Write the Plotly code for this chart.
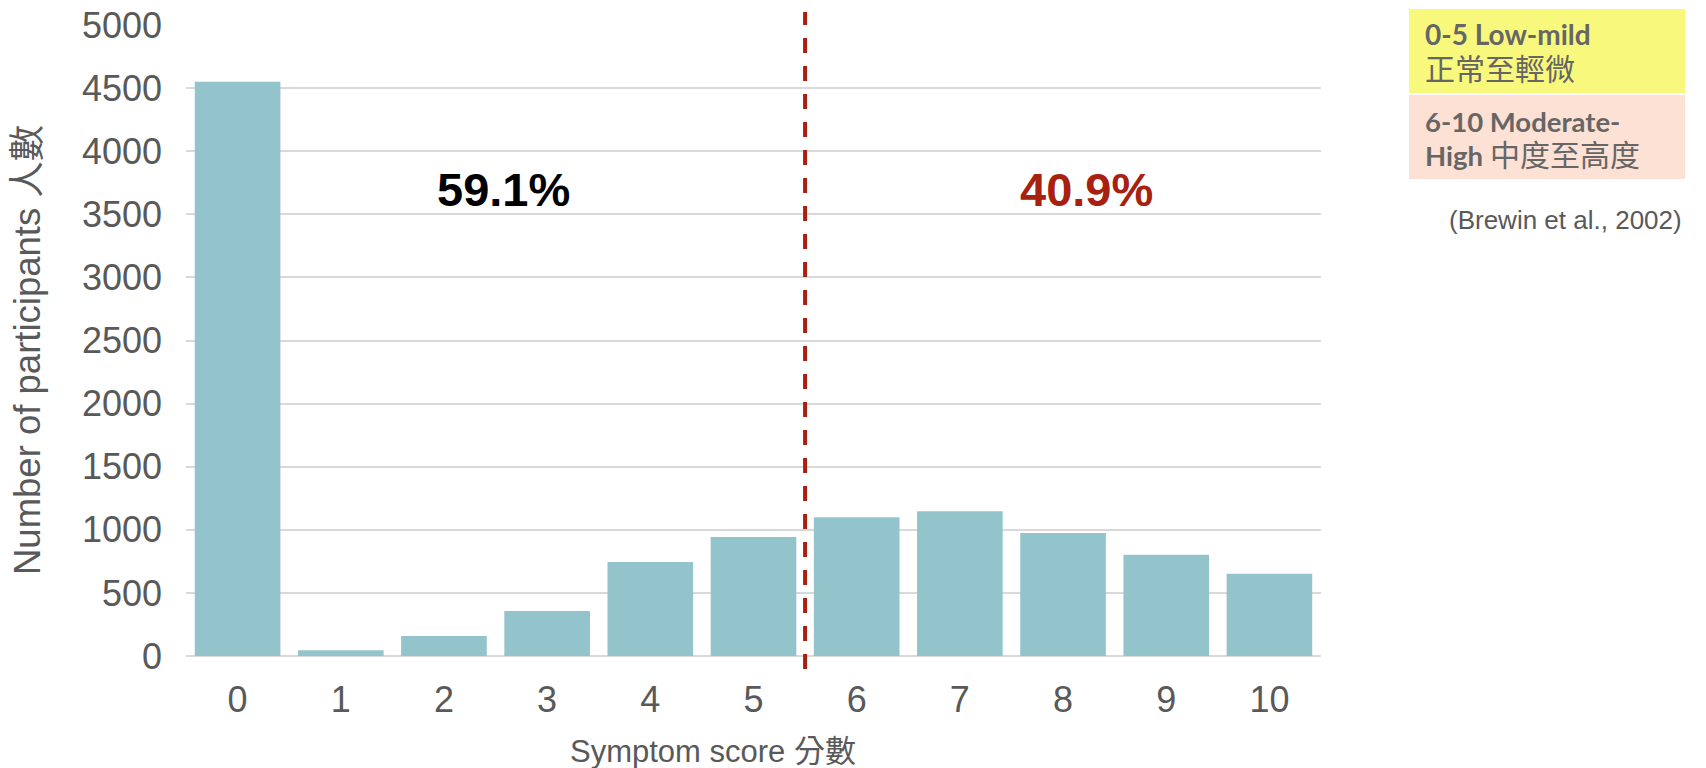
import plotly.graph_objects as go

# Distribution of symptom scores
scores = [str(s) for s in range(11)]
participants = [4550, 45, 158, 356, 744, 942, 1100, 1146, 974, 803, 652]
share_low = "59.1%"
share_high = "40.9%"
cutoff = 5.5

y_ticks = [0, 500, 1000, 1500, 2000, 2500, 3000, 3500, 4000, 4500, 5000]

# Page geometry (pixels)
W_PX, H_PX = 1706, 768
M_L, M_R, M_T, M_B = 186, 385, 25, 112
PLOT_W = W_PX - M_L - M_R
PLOT_H = H_PX - M_T - M_B


def paper_x(px):
    return (px - M_L) / PLOT_W


def paper_y(py):
    return (H_PX - M_B - py) / PLOT_H


BAR_COLOR = "#94C4CB"
GRID = "#D9D9D9"
AXIS_TEXT = "#595959"
RED = "#A8200F"
LATIN = "Liberation Sans, Arial, Noto Sans CJK TC"
BOX_FONT = "Lato, Noto Sans CJK TC"
BOX_TEXT = "#666666"

fig = go.Figure(
    go.Bar(
        x=scores,
        y=participants,
        marker=dict(color=BAR_COLOR, line=dict(width=0)),
        hoverinfo="x+y",
    )
)

fig.update_layout(
    width=W_PX,
    height=H_PX,
    margin=dict(l=M_L, r=M_R, t=M_T, b=M_B, pad=0, autoexpand=False),
    paper_bgcolor="white",
    plot_bgcolor="white",
    bargap=0.17,
    showlegend=False,
    font=dict(family=LATIN, color=AXIS_TEXT),
)

fig.update_xaxes(
    type="category",
    range=[-0.5, 10.5],
    automargin=False,
    showgrid=False,
    showline=False,
    zeroline=False,
    ticks="",
    ticklabelstandoff=19,
    tickfont=dict(size=36, color=AXIS_TEXT, family=LATIN),
    fixedrange=True,
)

fig.update_yaxes(
    range=[0, 5000],
    tickvals=y_ticks,
    automargin=False,
    showgrid=True,
    gridcolor=GRID,
    gridwidth=2,
    zeroline=True,
    zerolinecolor=GRID,
    zerolinewidth=2,
    showline=False,
    ticks="",
    ticklabelstandoff=23,
    tickfont=dict(size=36, color=AXIS_TEXT, family=LATIN),
    fixedrange=True,
)

# Cut-off between the low-mild and moderate-high groups
fig.add_shape(
    type="line",
    xref="x",
    yref="paper",
    x0=cutoff,
    x1=cutoff,
    y0=paper_y(669),
    y1=paper_y(12),
    line=dict(color=RED, width=4, dash="15px,13px"),
    layer="above",
)

annotations = [
    # Axis titles
    dict(
        text="Number of participants 人數",
        xref="paper", yref="paper",
        x=paper_x(27), y=paper_y(350),
        textangle=-90,
        showarrow=False,
        font=dict(size=36.5, color=AXIS_TEXT, family=LATIN),
        xanchor="center", yanchor="middle",
    ),
    dict(
        text="Symptom score 分數",
        xref="paper", yref="paper",
        x=paper_x(713), y=paper_y(751),
        showarrow=False,
        font=dict(size=31, color=AXIS_TEXT, family=LATIN),
        xanchor="center", yanchor="middle",
    ),
    # Group shares
    dict(
        text=f"<b>{share_low}</b>",
        xref="paper", yref="paper",
        x=paper_x(503), y=paper_y(189),
        showarrow=False,
        font=dict(size=47, color="#000000", family=LATIN),
        xanchor="center", yanchor="middle",
    ),
    dict(
        text=f"<b>{share_high}</b>",
        xref="paper", yref="paper",
        x=paper_x(1086), y=paper_y(189),
        showarrow=False,
        font=dict(size=47, color=RED, family=LATIN),
        xanchor="center", yanchor="middle",
    ),
    # Legend box texts
    dict(
        text="<b>0-5 Low-mild</b>",
        xref="paper", yref="paper",
        x=paper_x(1423), y=paper_y(34),
        showarrow=False,
        font=dict(size=28, color=BOX_TEXT, family=BOX_FONT),
        xanchor="left", yanchor="middle",
    ),
    dict(
        text="正常至輕微",
        xref="paper", yref="paper",
        x=paper_x(1423), y=paper_y(68),
        showarrow=False,
        font=dict(size=30, color=BOX_TEXT, family=BOX_FONT),
        xanchor="left", yanchor="middle",
    ),
    dict(
        text="<b>6-10 Moderate-</b>",
        xref="paper", yref="paper",
        x=paper_x(1423), y=paper_y(121),
        showarrow=False,
        font=dict(size=27.5, color=BOX_TEXT, family=BOX_FONT),
        xanchor="left", yanchor="middle",
    ),
    dict(
        text="<b>High</b> <span style='font-size:30px'>中度至高度</span>",
        xref="paper", yref="paper",
        x=paper_x(1423), y=paper_y(154),
        showarrow=False,
        font=dict(size=27.5, color=BOX_TEXT, family=BOX_FONT),
        xanchor="left", yanchor="middle",
    ),
    # Source
    dict(
        text="(Brewin et al., 2002)",
        xref="paper", yref="paper",
        x=paper_x(1684), y=paper_y(220),
        showarrow=False,
        font=dict(size=26, color=AXIS_TEXT, family=LATIN),
        xanchor="right", yanchor="middle",
    ),
]
fig.update_layout(annotations=annotations)

# Legend boxes
for y_top, y_bot, color in [(9, 93, "#F8F87C"), (95, 179, "#FCE1D4")]:
    fig.add_shape(
        type="rect",
        xref="paper", yref="paper",
        x0=paper_x(1409), x1=paper_x(1685),
        y0=paper_y(y_bot), y1=paper_y(y_top),
        fillcolor=color,
        line=dict(width=0),
        layer="below",
    )

fig.write_html("out.html", config={"displayModeBar": False})
